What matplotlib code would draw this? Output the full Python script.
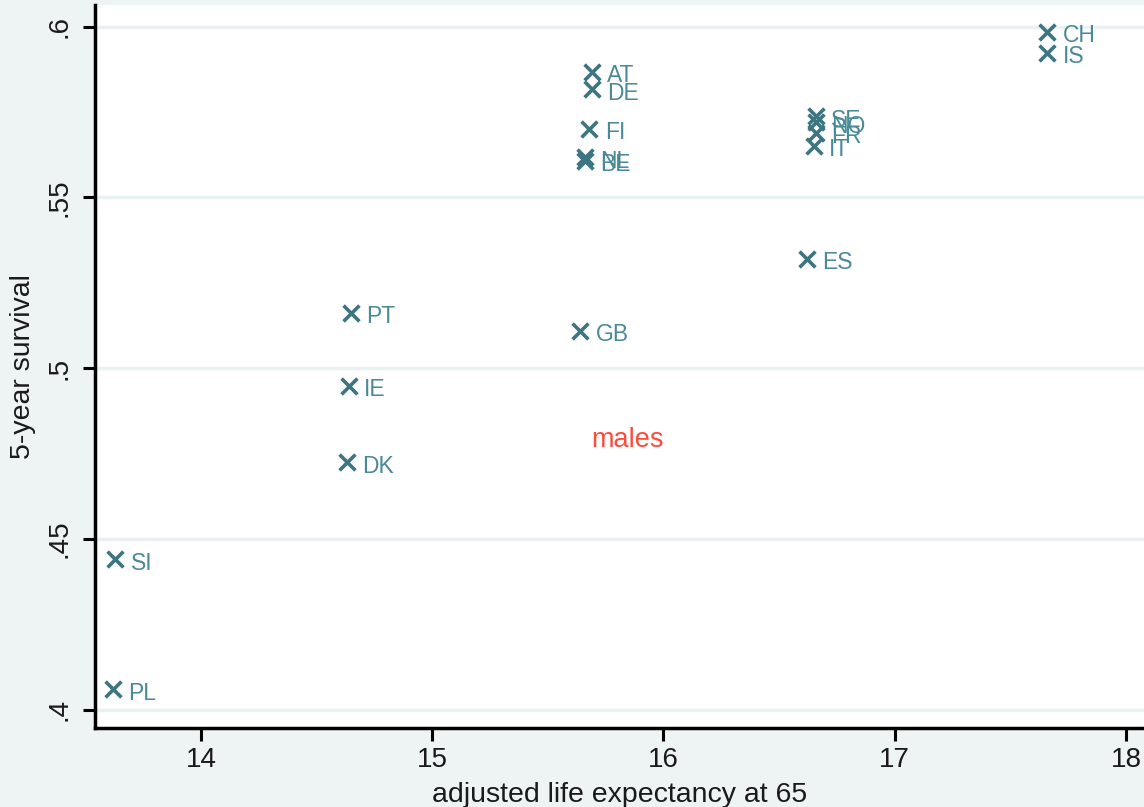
import matplotlib.pyplot as plt

plt.rcParams['font.family'] = ['Liberation Sans', 'DejaVu Sans']

# adjusted life expectancy at 65 vs 5-year survival, males
countries = ["CH", "IS", "AT", "DE", "FI", "NL", "BE", "SE", "NO", "FR", "IT",
             "ES", "GB", "PT", "IE", "DK", "SI", "PL"]
life_exp = [17.66, 17.66, 15.69, 15.69, 15.68, 15.66, 15.66, 16.66, 16.66, 16.66,
            16.65, 16.62, 15.64, 14.65, 14.64, 14.63, 13.63, 13.62]
survival = [0.5985, 0.5924, 0.5868, 0.5818, 0.5701, 0.5619, 0.5608, 0.5738, 0.5720,
            0.5690, 0.5652, 0.5321, 0.5110, 0.5163, 0.4949, 0.4726, 0.4442, 0.4061]

x_ticks = [14, 15, 16, 17, 18]
y_ticks = [0.4, 0.45, 0.5, 0.55, 0.6]
y_tick_labels = [".4", ".45", ".5", ".55", ".6"]

bg = '#eef3f3'
marker_col = '#3d7581'
label_col = '#4a8a98'

fig = plt.figure(figsize=(11.44, 8.07), dpi=100, facecolor=bg)
ax = fig.add_axes([0.083, 0.098, 0.917, 0.896])
ax.set_facecolor('white')

ax.scatter(life_exp, survival, marker='x', s=130, linewidths=2.6,
           color=marker_col, zorder=3)
for name, xv, yv in zip(countries, life_exp, survival):
    ax.annotate(name, (xv, yv), xytext=(11, -3), textcoords='offset points',
                ha='left', va='center', fontsize=16.5, color=label_col, zorder=4)

ax.text(15.845, 0.4791, "males", color='#ff4a3a', fontsize=19.5,
        ha='center', va='center')

ax.set_xlim(13.5416, 18.078)
ax.set_ylim(0.3947, 0.6064)
ax.set_xticks(x_ticks)
ax.set_yticks(y_ticks)
ax.set_yticklabels(y_tick_labels, rotation=90, va='center')
ax.tick_params(axis='both', length=9, width=2.2, labelsize=20, color='black',
               labelcolor='#1a1a1a')
ax.tick_params(axis='y', pad=7)
ax.tick_params(axis='x', pad=5)

ax.grid(axis='y', color='#eaf1f2', linewidth=2.5)
ax.set_axisbelow(True)

for side in ['top', 'right']:
    ax.spines[side].set_visible(False)
for side in ['left', 'bottom']:
    ax.spines[side].set_linewidth(2.5)

ax.set_xlabel("adjusted life expectancy at 65", fontsize=20.5, color='#1a1a1a',
              labelpad=6)
ax.set_ylabel("5-year survival", fontsize=20.5, color='#1a1a1a', labelpad=8)

fig.savefig("out.png", dpi=100, facecolor=bg)
